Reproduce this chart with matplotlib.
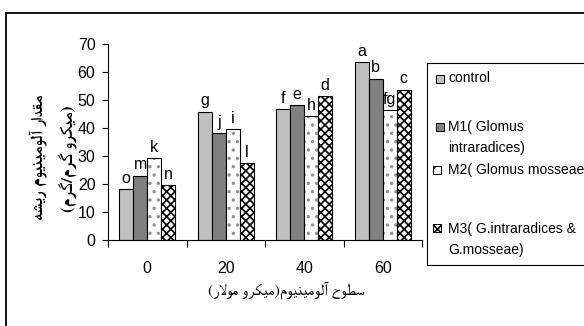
import matplotlib
matplotlib.use("Agg")
import matplotlib.pyplot as plt
import matplotlib.patches as mpatches
import numpy as np

# data
levels = ['0', '20', '40', '60']
control = [18.1, 45.8, 46.8, 63.5]
m1 = [23.0, 38.1, 48.2, 57.6]
m2 = [29.3, 39.6, 44.3, 46.4]
m3 = [19.6, 27.4, 51.3, 53.7]
letters_control = ['o', 'g', 'f', 'a']
letters_m1 = ['m', 'j', 'e', 'b']
letters_m2 = ['k', 'i', 'h', 'fg']
letters_m3 = ['n', 'l', 'd', 'c']
legend_labels = ['control', 'M1( Glomus\nintraradices)', 'M2( Glomus mosseae)',
                 'M3( G.intraradices &\nG.mosseae)']

ylabel_1 = 'مقدار آلومینیوم ریشه'
ylabel_2 = '(میکرو گرم/گرم)'
xlabel = 'سطوح آلومینیوم(میکرو مولار)'

# --- tiny arabic shaper (matplotlib has no complex text layout) ---
# isolated, final, initial, medial
FORMS = {
    'ا': ('\uFE8D', '\uFE8E', None, None),
    'آ': ('\uFE81', '\uFE82', None, None),
    'ب': ('\uFE8F', '\uFE90', '\uFE91', '\uFE92'),
    'ح': ('\uFEA1', '\uFEA2', '\uFEA3', '\uFEA4'),
    'د': ('\uFEA9', '\uFEAA', None, None),
    'ر': ('\uFEAD', '\uFEAE', None, None),
    'س': ('\uFEB1', '\uFEB2', '\uFEB3', '\uFEB4'),
    'ش': ('\uFEB5', '\uFEB6', '\uFEB7', '\uFEB8'),
    'ط': ('\uFEC1', '\uFEC2', '\uFEC3', '\uFEC4'),
    'ق': ('\uFED5', '\uFED6', '\uFED7', '\uFED8'),
    'ل': ('\uFEDD', '\uFEDE', '\uFEDF', '\uFEE0'),
    'م': ('\uFEE1', '\uFEE2', '\uFEE3', '\uFEE4'),
    'ن': ('\uFEE5', '\uFEE6', '\uFEE7', '\uFEE8'),
    'ه': ('\uFEE9', '\uFEEA', '\uFEEB', '\uFEEC'),
    'و': ('\uFEED', '\uFEEE', None, None),
    'ی': ('\uFBFC', '\uFBFD', '\uFBFE', '\uFBFF'),
    'ک': ('\uFB8E', '\uFB8F', '\uFB90', '\uFB91'),
    'گ': ('\uFB92', '\uFB93', '\uFB94', '\uFB95'),
}
LAM_ALEF = {'ا': ('\uFEFB', '\uFEFC'), 'آ': ('\uFEF5', '\uFEF6')}


def shape(s):
    out = []
    i = 0
    while i < len(s):
        c = s[i]
        prev = s[i - 1] if i > 0 else ''
        prev_joins = prev in FORMS and FORMS[prev][2] is not None
        if c not in FORMS:
            out.append(c)
            i += 1
            continue
        nxt = s[i + 1] if i + 1 < len(s) else ''
        if c == 'ل' and nxt in LAM_ALEF:
            out.append(LAM_ALEF[nxt][1 if prev_joins else 0])
            i += 2
            continue
        dual = FORMS[c][2] is not None
        next_joins = dual and nxt in FORMS
        if prev_joins and next_joins:
            out.append(FORMS[c][3])
        elif prev_joins:
            out.append(FORMS[c][1])
        elif next_joins:
            out.append(FORMS[c][2])
        else:
            out.append(FORMS[c][0])
        i += 1
    vis = ''.join(reversed(out))
    return vis.translate(str.maketrans('()', ')('))


plt.rcParams['font.family'] = ['Liberation Sans', 'DejaVu Sans']
plt.rcParams['hatch.linewidth'] = 1.2
arabic_font = ['FreeSerif', 'DejaVu Sans']

W, H = 584, 326
fig = plt.figure(figsize=(W / 100, H / 100), dpi=100)
ax = fig.add_axes([108 / W, 1 - 240 / H, 314 / W, 196 / H])

x = np.arange(len(levels))
w = 0.178
off = [-1.5 * w, -0.5 * w, 0.5 * w, 1.5 * w]

ax.bar(x + off[0], control, w, color='#c0c0c0', edgecolor='black', lw=0.8)
ax.bar(x + off[1], m1, w, color='#808080', edgecolor='black', lw=0.8)
ax.bar(x + off[2], m2, w, color='white', edgecolor='#909090', hatch='..', lw=0)
ax.bar(x + off[2], m2, w, fill=False, edgecolor='black', lw=0.8)
ax.bar(x + off[3], m3, w, color='white', edgecolor='black', hatch='xxxx', lw=0.8)

for vals, labs, o in [(control, letters_control, off[0]), (m1, letters_m1, off[1]),
                      (m2, letters_m2, off[2]), (m3, letters_m3, off[3])]:
    for xi, v, t in zip(x, vals, labs):
        ax.text(xi + o, v + 1.2, t, ha='center', va='bottom', fontsize=11.5)

ax.set_xlim(-0.5, 3.5)
ax.set_ylim(0, 70)
ax.set_yticks(range(0, 71, 10))
ax.set_xticks(x)
ax.set_xticklabels(levels)
ax.set_xticks(np.arange(-0.5, 3.6, 1), minor=True)
ax.tick_params(axis='x', which='major', length=0, pad=15, labelsize=11.5)
ax.tick_params(axis='x', which='minor', length=5, width=0.8, direction='out')
ax.tick_params(axis='y', length=4, width=0.8, pad=5, labelsize=11.5)
for side in ['top', 'right']:
    ax.spines[side].set_visible(False)
for side in ['left', 'bottom']:
    ax.spines[side].set_linewidth(0.8)

# axis titles (right-to-left text)
fig.text(38.5 / W, 1 - 157 / H, shape(ylabel_1), rotation=90, ha='center', va='center',
         fontsize=12.5, fontweight='bold', family=arabic_font)
fig.text(67.5 / W, 1 - 159 / H, shape(ylabel_2), rotation=90, ha='center', va='center',
         fontsize=12.5, fontweight='bold', family=arabic_font)
fig.text(286 / W, 1 - 291 / H, shape(xlabel), ha='center', va='center',
         fontsize=11.5, family=arabic_font)

# outer frame
fig.patches.append(mpatches.Rectangle((6 / W, -0.1), 1.2, 1.1 - 13 / H, transform=fig.transFigure,
                                      fill=False, edgecolor='black', lw=1.3))

# legend box drawn by hand to match the uneven spacing
fig.patches.append(mpatches.Rectangle((427 / W, 1 - 265 / H), 1.0, 202 / H, transform=fig.transFigure,
                                      fill=False, edgecolor='black', lw=0.8))
styles = [dict(facecolor='#c0c0c0'), dict(facecolor='#808080'),
          dict(facecolor='white', hatch='.'), dict(facecolor='white', hatch='xxxx')]
text_y = [78, 137.5, 170, 239.5]
box_y = [78.5, 127, 170, 228]
box_x = [436, 436, 433, 433]
for lab, st, ty, by, bx in zip(legend_labels, styles, text_y, box_y, box_x):
    fig.patches.append(mpatches.Rectangle((bx / W, 1 - (by + 4) / H), 8 / W, 8 / H,
                                          transform=fig.transFigure, edgecolor='black',
                                          lw=0.7, **st))
    fig.text(448 / W, 1 - ty / H, lab, ha='left', va='center', fontsize=10, linespacing=1.55)

fig.savefig('out.png', dpi=100)
